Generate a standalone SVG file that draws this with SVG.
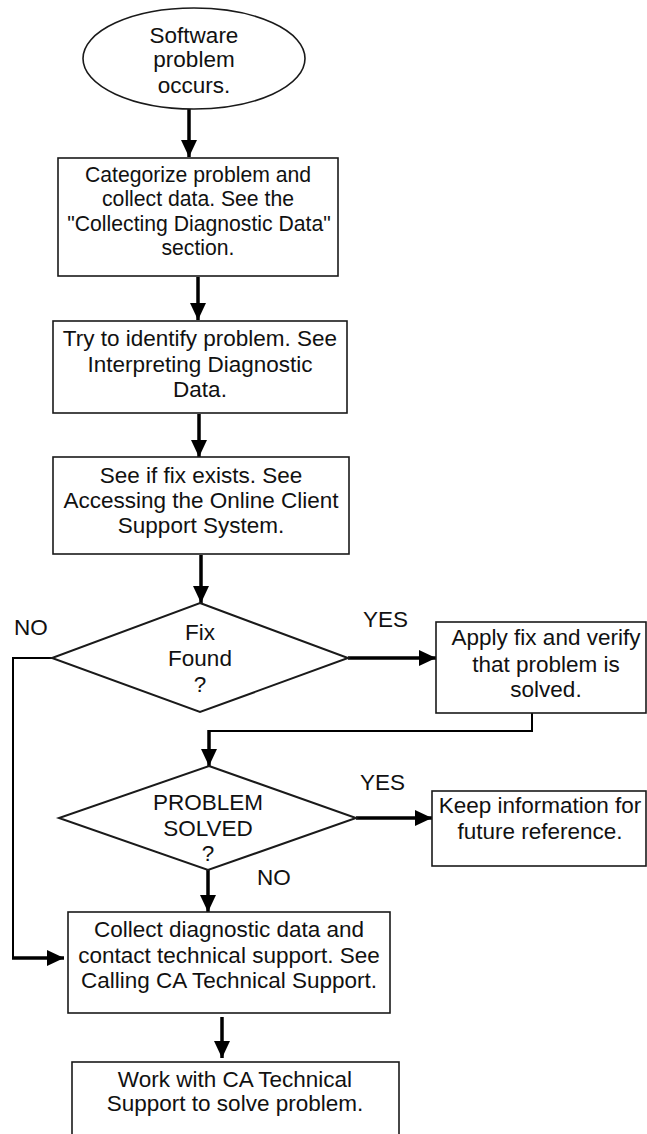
<svg xmlns="http://www.w3.org/2000/svg" width="647" height="1134" viewBox="0 0 647 1134">
  <style>
    .shape { fill: #ffffff; stroke: #1a1a1a; stroke-width: 1.6; }
    .dia { fill: #ffffff; stroke: #1a1a1a; stroke-width: 2; }
    .lbl { font-family: "Liberation Sans", Arial, sans-serif; font-size: 22.5px; fill: #111111; text-anchor: middle; }
    .small { font-size: 21.2px; }
    .tag { font-family: "Liberation Sans", Arial, sans-serif; font-size: 22.5px; fill: #111111; }
    .flow { fill: none; stroke: #000000; stroke-width: 3.5; }
    .thin { fill: none; stroke: #000000; stroke-width: 2; }
  </style>
  <defs>
    <marker id="head" markerUnits="userSpaceOnUse" markerWidth="17" markerHeight="16" refX="17" refY="8" orient="auto">
      <path d="M0,0 L17,8 L0,16 z" fill="#000000"/>
    </marker>
  </defs>

  <rect width="647" height="1134" fill="#ffffff"/>

  <!-- connectors -->
  <g id="connectors">
    <line class="flow" x1="189" y1="109" x2="189" y2="157" marker-end="url(#head)"/>
    <line class="flow" x1="198" y1="277" x2="198" y2="320" marker-end="url(#head)"/>
    <line class="flow" x1="199" y1="414" x2="199" y2="457" marker-end="url(#head)"/>
    <line class="flow" x1="201" y1="555" x2="201" y2="603" marker-end="url(#head)"/>
    <line class="flow" x1="348" y1="658" x2="436" y2="658" marker-end="url(#head)"/>
    <polyline class="thin" points="532,713 532,731 209,731"/>
    <line class="flow" x1="209" y1="730" x2="209" y2="766" marker-end="url(#head)"/>
    <line class="flow" x1="356" y1="818" x2="432" y2="818" marker-end="url(#head)"/>
    <line class="flow" x1="208" y1="870" x2="208" y2="912" marker-end="url(#head)"/>
    <polyline class="thin" points="52,658 13,658 13,958"/>
    <line class="flow" x1="12" y1="958" x2="64" y2="958" marker-end="url(#head)"/>
    <line class="flow" x1="222" y1="1017" x2="222" y2="1058" marker-end="url(#head)"/>
    <text class="tag" x="14" y="635">NO</text>
    <text class="tag" x="363" y="627">YES</text>
    <text class="tag" x="360" y="790">YES</text>
    <text class="tag" x="257" y="885">NO</text>
  </g>

  <g id="start">
    <ellipse class="shape" cx="194" cy="58.5" rx="111" ry="50.5"/>
    <text class="lbl" x="194" y="43">Software</text>
    <text class="lbl" x="194" y="67">problem</text>
    <text class="lbl" x="194" y="93">occurs.</text>
  </g>

  <g id="categorize">
    <rect class="shape" x="58" y="158" width="280" height="118"/>
    <text class="lbl small" x="198" y="182">Categorize problem and</text>
    <text class="lbl small" x="198" y="206">collect data. See the</text>
    <text class="lbl small" x="199" y="231">"Collecting Diagnostic Data"</text>
    <text class="lbl small" x="198" y="255">section.</text>
  </g>

  <g id="identify">
    <rect class="shape" x="53" y="321" width="294" height="92"/>
    <text class="lbl" x="200" y="346">Try to identify problem. See</text>
    <text class="lbl" x="200" y="372">Interpreting Diagnostic</text>
    <text class="lbl" x="200" y="397">Data.</text>
  </g>

  <g id="fix-exists">
    <rect class="shape" x="53" y="457" width="296" height="97"/>
    <text class="lbl" x="201" y="483">See if fix exists. See</text>
    <text class="lbl" x="201" y="508">Accessing the Online Client</text>
    <text class="lbl" x="201" y="533">Support System.</text>
  </g>

  <g id="fix-found">
    <polygon class="dia" points="200,603 348,658 200,712 52,658"/>
    <text class="lbl" x="200" y="640">Fix</text>
    <text class="lbl" x="200" y="666">Found</text>
    <text class="lbl" x="200" y="692">?</text>
  </g>

  <g id="apply-fix">
    <rect class="shape" x="436" y="622" width="210" height="91"/>
    <text class="lbl" x="546" y="645">Apply fix and verify</text>
    <text class="lbl" x="546" y="672">that problem is</text>
    <text class="lbl" x="546" y="697">solved.</text>
  </g>

  <g id="problem-solved">
    <polygon class="dia" points="209,766 356,818 208,870 59,818"/>
    <text class="lbl" x="208" y="810">PROBLEM</text>
    <text class="lbl" x="208" y="836">SOLVED</text>
    <text class="lbl" x="208" y="861">?</text>
  </g>

  <g id="keep-info">
    <rect class="shape" x="432" y="791" width="214" height="75"/>
    <text class="lbl" x="540" y="813">Keep information for</text>
    <text class="lbl" x="540" y="839">future reference.</text>
  </g>

  <g id="contact-support">
    <rect class="shape" x="68" y="912" width="322" height="101"/>
    <text class="lbl" x="229" y="937">Collect diagnostic data and</text>
    <text class="lbl" x="229" y="963">contact technical support. See</text>
    <text class="lbl" x="229" y="988">Calling CA Technical Support.</text>
  </g>

  <g id="work-with-support">
    <rect class="shape" x="72" y="1062" width="327" height="90"/>
    <text class="lbl" x="235" y="1087">Work with CA Technical</text>
    <text class="lbl" x="235" y="1111">Support to solve problem.</text>
  </g>
</svg>
